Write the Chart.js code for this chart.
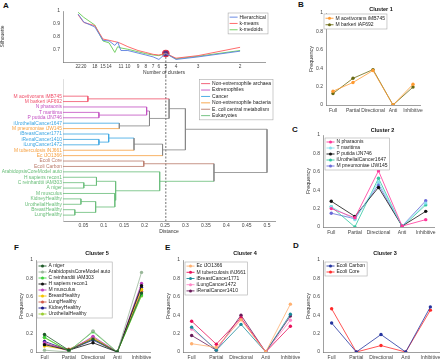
<!DOCTYPE html>
<html>
<head>
<meta charset="utf-8">
<script src="https://cdn.jsdelivr.net/npm/chart.js@4.4.1/dist/chart.umd.min.js"></script>
<style>
body { margin:0; background:#fff; width:440px; height:359px; overflow:hidden; position:relative; font-family:'Liberation Sans', Arial, sans-serif; }
.lbl { position:absolute; font-weight:bold; font-size:8px; line-height:8px; color:#111; }
</style>
</head>
<body>
<div class="lbl" style="left:3px;top:2px">A</div>
<div class="lbl" style="left:298px;top:1px">B</div>
<div class="lbl" style="left:292px;top:126px">C</div>
<div class="lbl" style="left:293px;top:242px">D</div>
<div class="lbl" style="left:165px;top:244px">E</div>
<div class="lbl" style="left:14px;top:244px">F</div>
<script>
// ---- silhouette vs number of clusters
var clusterCounts = [22,20,18,15,14,13,12,11,10,9,8,7,6,5,4,3,2];
var cutDistance   = [0.037,0.051,0.078,0.098,0.113,0.127,0.134,0.142,0.159,0.184,0.203,0.221,0.235,0.252,0.277,0.331,0.434];
var tickCounts    = [22,20,18,15,14,11,10,9,8,7,6,5,4,3,2];
var silHier     = [0.976,0.913,0.875,0.77,0.765,0.73,0.757,0.69,0.69,0.67,0.655,0.64,0.62,0.667,0.62,0.64,0.685];
var silKmeans   = [0.97,0.91,0.885,0.78,0.77,0.76,0.755,0.745,0.72,0.69,0.675,0.66,0.655,0.667,0.63,0.65,0.715];
var silKmedoids = [0.99,0.95,0.89,0.765,0.75,0.675,0.72,0.71,0.70,0.68,0.665,0.655,0.65,0.667,0.625,0.645,0.69];
var chosenCount = 5;

// ---- dendrogram
var leafNames = ['M acetivorans iMB745','M barkeri iAF692','N pharaonis','T maritima','P putida iJN746',
  'iUrothelialCancer1647','M pneumoniae iJW145','iBreastCancer1771','iRenalCancer1410','iLungCancer1472',
  'M tuberculosis iNJ661','Ec iJO1366','Ecoli Core','Ecoli Carbon','ArabidopsisCoreModel auto',
  'H sapiens recon1','C reinhardtii iAM303','A niger','M musculus','KidneyHealthy','UrothelialHealthy',
  'BreastHealthy','LungHealthy'];
var leafGroup = [0,0,1,1,1,2,3,2,2,2,3,3,4,4,5,5,5,5,5,5,5,5,5];
var groupNames = ['Non-extremophile archaea','Extremophiles','Cancer','Non-extremophile bacteria','E. coli central metabolism','Eukaryotes'];
// [child a, child b, distance]; new nodes are numbered after the 23 leaves
var linkage = [
  [0,1,0.061], [3,4,0.088], [2,24,0.205], [5,6,0.138], [25,26,0.212],
  [8,9,0.088], [7,28,0.112], [29,10,0.174], [30,11,0.244], [23,27,0.26],
  [32,31,0.30], [12,13,0.198], [16,17,0.051], [15,35,0.082], [19,20,0.044],
  [21,22,0.029], [37,38,0.080], [18,39,0.127], [36,40,0.129], [14,41,0.237],
  [34,42,0.37], [33,43,0.50]
];
var distTicks = [0.05,0.1,0.15,0.2,0.25,0.3,0.35,0.4,0.45,0.5];

// ---- cluster profiles
var categories = ['Full','Partial','Directional','Anti','Inhibitive'];
var c1Names = ['M acetivorans iMB745','M barkeri iAF692'];
var c1Values = [[0.15,0.245,0.375,0,0.225],[0.125,0.29,0.385,0,0.195]];
var c2Names = ['N pharaonis','T maritima','P putida iJN746','iUrothelialCancer1647','M pneumoniae iJW145'];
var c2Values = [[0.20,0.10,0.61,0.01,0.08],[0.22,0.08,0.49,0.01,0.26],[0.28,0.115,0.43,0.01,0.17],
  [0.22,0.0,0.53,0.0,0.24],[0.15,0.09,0.46,0.01,0.285]];
var c3Names = ['Ecoli Carbon','Ecoli Core'];
var c3Values = [[0.315,0,0.19,0,0.49],[0.47,0,0.07,0,0.455]];
var c4Names = ['Ec iJO1366','M tuberculosis iNJ661','iBreastCancer1771','iLungCancer1472','iRenalCancer1410'];
var c4Values = [[0.09,0.05,0.35,0,0.52],[0.335,0.085,0.37,0,0.28],[0.27,0.02,0.30,0,0.41],
  [0.25,0.03,0.36,0,0.345],[0.18,0.02,0.40,0,0.39]];
var c5Names = ['A niger','ArabidopsisCoreModel auto','C reinhardtii iAM303','H sapiens recon1','M musculus',
  'BreastHealthy','LungHealthy','KidneyHealthy','UrothelialHealthy'];
var c5Values = [[0.19,0.02,0.14,0,0.64],[0.02,0.0,0.23,0,0.865],[0.16,0.01,0.22,0,0.62],[0.08,0.02,0.10,0,0.72],
  [0.10,0.01,0.17,0,0.745],[0.065,0.02,0.15,0,0.68],[0.09,0.03,0.15,0,0.66],[0.115,0.02,0.13,0,0.70],
  [0.155,0.01,0.16,0,0.61]];

// colours
var groupColors = ['#f0506a','#c24ec2','#38a4e2','#f6a040','#b97a6a','#68bd78'];
var silColors = ['#5b7fe0','#ff5a5a','#66cc55'];
var c1Colors = ['#ff9a30','#6a6a12'];
var c2Colors = ['#ff3399','#88def0','#111111','#30c8a0','#6a6ad8'];
var c3Colors = ['#2535a0','#ff2a2a'];
var c4Colors = ['#ffb070','#e8105a','#1a8a9a','#ff88c8','#6a1a5a'];
var c5Colors = ['#1e5a28','#9ab89a','#3ed13e','#111111','#c040c0','#f5c400','#d05a4a','#1a1a8a','#9acd32'];

var FONT = "'Liberation Sans', Arial, sans-serif";
Chart.defaults.font.family = FONT;
Chart.defaults.font.size = 5;
Chart.defaults.color = '#444';
Chart.defaults.animation = false;
Chart.defaults.plugins.legend.display = false;
Chart.defaults.plugins.tooltip.enabled = false;

// boxed legend drawn inside the axes
var boxLegend = {
  id: 'boxLegend',
  afterDatasetsDraw: function(chart, args, o) {
    if (!o.items) return;
    var ctx = chart.ctx, a = chart.chartArea;
    ctx.save();
    ctx.font = o.size + 'px ' + FONT;
    var tw = 0;
    o.items.forEach(function(it){ tw = Math.max(tw, ctx.measureText(it.label).width); });
    var w = 1.5 + o.sample + 2 + tw + 2, h = o.items.length * o.row + 2;
    var x0 = o.right ? a.right - o.dx - w : a.left + o.dx;
    var y0 = a.top + o.dy;
    ctx.fillStyle = '#fff';
    ctx.fillRect(x0, y0, w, h);
    ctx.strokeStyle = '#aaa';
    ctx.lineWidth = 0.6;
    ctx.strokeRect(x0, y0, w, h);
    o.items.forEach(function(it, i) {
      var cy = y0 + 1 + o.row * (i + 0.5);
      ctx.strokeStyle = it.color;
      ctx.lineWidth = 0.9;
      ctx.beginPath(); ctx.moveTo(x0 + 1.5, cy); ctx.lineTo(x0 + 1.5 + o.sample, cy); ctx.stroke();
      if (o.marker) {
        ctx.fillStyle = it.color;
        ctx.beginPath(); ctx.arc(x0 + 1.5 + o.sample / 2, cy, 1.5, 0, 2 * Math.PI); ctx.fill();
      }
      ctx.fillStyle = '#222';
      ctx.textBaseline = 'middle';
      ctx.fillText(it.label, x0 + 1.5 + o.sample + 2, cy);
    });
    ctx.restore();
  }
};

var panelTitle = {
  id: 'panelTitle',
  afterDraw: function(chart, args, o) {
    if (!o.text) return;
    var ctx = chart.ctx, a = chart.chartArea;
    ctx.save();
    ctx.font = 'bold 5.5px ' + FONT;
    ctx.fillStyle = '#111';
    ctx.textAlign = 'center';
    ctx.textBaseline = 'middle';
    ctx.fillText(o.text, (a.left + a.right) / 2 + (o.dx || 0), a.top - o.gap);
    ctx.restore();
  }
};

// dashed cut line at the chosen number of clusters
var cutLine = {
  id: 'cutLine',
  beforeDatasetsDraw: function(chart, args, o) {
    if (o.x == null) return;
    var ctx = chart.ctx, px = chart.scales.x.getPixelForValue(o.x);
    var y1 = o.fromValue != null ? chart.scales.y.getPixelForValue(o.fromValue) : 0;
    var y2 = o.fromValue != null ? chart.height : chart.chartArea.bottom;
    ctx.save();
    ctx.strokeStyle = '#333';
    ctx.lineWidth = 0.7;
    ctx.setLineDash([2, 1.5]);
    ctx.beginPath(); ctx.moveTo(px, y1); ctx.lineTo(px, y2); ctx.stroke();
    ctx.restore();
  }
};
Chart.register(boxLegend, panelTitle, cutLine);

function makeCanvas(left, top, w, h) {
  var c = document.createElement('canvas');
  c.width = w; c.height = h;
  c.style.cssText = 'position:absolute;left:' + left + 'px;top:' + top + 'px;width:' + w + 'px;height:' + h + 'px';
  document.body.appendChild(c);
  return c;
}

var axisBorder = { display: true, color: '#777', width: 0.7 };
var noGrid = { display: false, drawTicks: false };
var cutX = cutDistance[clusterCounts.indexOf(chosenCount)];
function fmt(v) { return String(+v.toFixed(2)); }

// ---------- silhouette (panel A top)
(function() {
  var L = 63, R = 265, T = 11, B = 62, xh = 14, padR = 15;
  var cv = makeCanvas(0, 0, R + padR, B + xh);
  var names = ['Hierarchical','k-means','k-medoids'];
  var series = [silHier, silKmeans, silKmedoids];
  var ds = series.map(function(s, k) {
    return {
      label: names[k],
      data: s.map(function(v, i){ return { x: cutDistance[i], y: v }; }),
      borderColor: silColors[k], borderWidth: 0.9, pointRadius: 0, tension: 0
    };
  });
  var iSel = clusterCounts.indexOf(chosenCount);
  ds.push({
    label: 'chosen',
    data: [{ x: cutX, y: silHier[iSel] }],
    showLine: false, pointRadius: 3.2, pointBorderWidth: 1.2,
    pointBackgroundColor: '#5a3080', pointBorderColor: '#e0304a'
  });
  new Chart(cv, {
    type: 'line',
    data: { datasets: ds },
    options: {
      responsive: false,
      layout: { padding: { left: 0, top: T, right: padR, bottom: 0 } },
      scales: {
        x: {
          type: 'linear', min: 0, max: (R - L) / 408,
          grid: noGrid, border: axisBorder,
          afterBuildTicks: function(s) { s.ticks = tickCounts.map(function(n){ return { value: cutDistance[clusterCounts.indexOf(n)] }; }); },
          ticks: { autoSkip: false, maxRotation: 0, padding: 2, font: { size: 4.8 }, callback: function(v, i){ return tickCounts[i]; } },
          title: { display: true, text: 'Number of clusters', font: { size: 5 }, padding: 0, color: '#333' },
          afterFit: function(s){ s.height = xh; }
        },
        y: {
          min: 0.6, max: 1.0,
          grid: noGrid, border: axisBorder,
          afterBuildTicks: function(s) { s.ticks = [0.7,0.8,0.9,1].map(function(v){ return { value: v }; }); },
          ticks: { padding: 3, callback: fmt },
          title: { display: true, text: 'Silhouette', font: { size: 5 }, padding: 0, color: '#333' },
          afterFit: function(s){ s.width = L; }
        }
      },
      plugins: {
        boxLegend: { items: names.map(function(n, k){ return { label: n, color: silColors[k] }; }),
                     right: true, dx: -3, dy: 2, row: 6.3, sample: 8, size: 5 },
        cutLine: { x: cutX, fromValue: silHier[iSel] }
      }
    }
  });
})();

// ---------- dendrogram (panel A bottom)
(function() {
  var L = 63, R = 275, T = 77.5, B = 221, xh = 14, top = 76;
  var cv = makeCanvas(0, top, 280, B + xh - top);
  var n = leafNames.length, H = [], Y = [], G = [];
  for (var i = 0; i < n; i++) { H.push(0); Y.push(i); G.push(leafGroup[i]); }
  var segs = [];
  linkage.forEach(function(l) {
    var a = l[0], b = l[1], h = l[2];
    var g = (G[a] === G[b]) ? G[a] : -1;
    segs.push({ p: [[H[a], Y[a]], [h, Y[a]]], g: G[a] });
    segs.push({ p: [[H[b], Y[b]], [h, Y[b]]], g: G[b] });
    segs.push({ p: [[h, Y[a]], [h, Y[b]]], g: g });
    H.push(h); Y.push((Y[a] + Y[b]) / 2); G.push(g);
  });
  var ds = segs.map(function(s) {
    return {
      data: s.p.map(function(q){ return { x: q[0], y: q[1] }; }),
      borderColor: s.g < 0 ? '#858585' : groupColors[s.g],
      borderWidth: 0.8, pointRadius: 0, tension: 0
    };
  });
  new Chart(cv, {
    type: 'line',
    data: { datasets: ds },
    options: {
      responsive: false,
      layout: { padding: { left: 0, top: T - top, right: 280 - R, bottom: 0 } },
      scales: {
        x: {
          type: 'linear', min: 0, max: (R - L) / 408,
          grid: noGrid, border: axisBorder,
          afterBuildTicks: function(s) { s.ticks = distTicks.map(function(v){ return { value: v }; }); },
          ticks: { autoSkip: false, maxRotation: 0, padding: 2, callback: fmt },
          title: { display: true, text: 'Distance', font: { size: 5 }, padding: 0, color: '#333' },
          afterFit: function(s){ s.height = xh; }
        },
        y: {
          type: 'linear', reverse: true, min: -3, max: (B - T) / 5.5 - 3,
          grid: noGrid, border: { display: true, color: '#d0d0d0', width: 0.7 },
          afterBuildTicks: function(s) { s.ticks = leafNames.map(function(nm, i){ return { value: i }; }); },
          ticks: {
            autoSkip: false, padding: 1, font: { size: 4.9 },
            callback: function(v){ return leafNames[v]; },
            color: function(c){ return groupColors[leafGroup[c.tick.value]]; }
          },
          afterFit: function(s){ s.width = L; }
        }
      },
      plugins: {
        boxLegend: { items: groupNames.map(function(nm, k){ return { label: nm, color: groupColors[k] }; }),
                     right: true, dx: 2, dy: -0.5, row: 6.4, sample: 9, size: 5 },
        cutLine: { x: cutX }
      }
    }
  });
})();

// ---------- cluster profile panels
function freqPanel(g, title, names, values, colors) {
  var yw = 18, padT = 14, xh = 10, padR = 16;
  var left = g.L - yw, top = g.T - padT;
  var cv = makeCanvas(left, top, g.R + padR - left, g.B + xh - top);
  var ds = names.map(function(nm, k) {
    return {
      label: nm,
      data: values[k].map(function(v, i){ return { x: i + 1, y: v }; }),
      borderColor: colors[k], backgroundColor: colors[k],
      borderWidth: 0.8, pointRadius: 1.7, pointBorderWidth: 0, tension: 0
    };
  });
  new Chart(cv, {
    type: 'line',
    data: { datasets: ds },
    options: {
      responsive: false,
      layout: { padding: { left: 0, top: padT, right: padR, bottom: 0 } },
      scales: {
        x: {
          type: 'linear', min: 0.65, max: 5.35,
          grid: noGrid, border: axisBorder,
          afterBuildTicks: function(s) { s.ticks = categories.map(function(c, i){ return { value: i + 1 }; }); },
          ticks: { autoSkip: false, maxRotation: 0, padding: 3, callback: function(v){ return categories[v - 1]; } },
          afterFit: function(s){ s.height = xh; }
        },
        y: {
          min: 0, max: 1,
          grid: noGrid, border: axisBorder,
          afterBuildTicks: function(s) { s.ticks = [0,0.2,0.4,0.6,0.8,1].map(function(v){ return { value: v }; }); },
          ticks: { padding: 3, callback: fmt },
          title: { display: true, text: 'Frequency', font: { size: 5.5 }, padding: 0, color: '#333' },
          afterFit: function(s){ s.width = yw; }
        }
      },
      plugins: {
        panelTitle: { text: title, gap: g.tg, dx: g.tdx },
        boxLegend: { items: names.map(function(nm, k){ return { label: nm, color: colors[k] }; }),
                     marker: true, dx: g.lx, dy: g.ly, row: g.row, sample: 8, size: 5 }
      }
    }
  });
}

freqPanel({ L: 326, R: 420, T: 13,  B: 105, tg: 4, tdx: 8, lx: -2, ly: 1, row: 6.5 }, 'Cluster 1', c1Names, c1Values, c1Colors);
freqPanel({ L: 323, R: 434, T: 135, B: 227, tg: 5, tdx: 4, lx: 2, ly: 3, row: 6 },   'Cluster 2', c2Names, c2Values, c2Colors);
freqPanel({ L: 323, R: 439, T: 260, B: 352, tg: 7, tdx: 4, lx: 2, ly: 2, row: 6 },   'Cluster 3', c3Names, c3Values, c3Colors);
freqPanel({ L: 183, R: 299, T: 260, B: 352, tg: 7, tdx: 4, lx: 2, ly: 2, row: 6.2 }, 'Cluster 4', c4Names, c4Values, c4Colors);
freqPanel({ L: 36,  R: 150, T: 260, B: 352, tg: 7, tdx: 4, lx: 1, ly: 2, row: 6 },   'Cluster 5', c5Names, c5Values, c5Colors);
</script>
</body>
</html>
